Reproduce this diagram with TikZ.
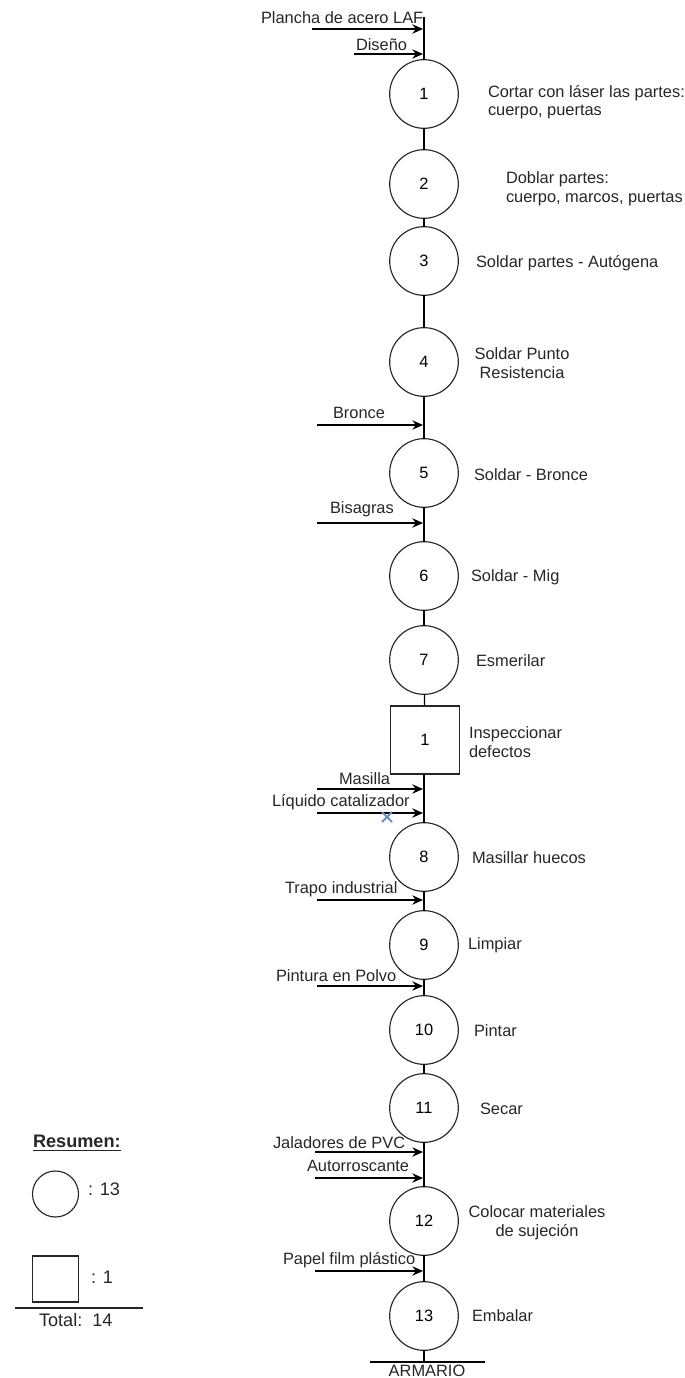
\documentclass[tikz,border=0pt]{standalone}
\usepackage{fontspec}
\setmainfont{Liberation Sans}
\usetikzlibrary{arrows.meta}
\begin{document}
\begin{tikzpicture}[x=0.75pt,y=-0.75pt,
  every node/.style={inner sep=0pt,outer sep=0pt},
  txt/.style={font=\fontsize{12.3}{14}\selectfont,text=black!85},
  sumtxt/.style={font=\fontsize{13.6}{16}\selectfont,text=black!85},
  opcircle/.style={draw=black!85,line width=0.85pt,circle,minimum size=51.5pt,font=\fontsize{12.3}{14}\selectfont},
  inspbox/.style={draw=black!85,line width=0.85pt,rectangle,minimum width=51.5pt,minimum height=51pt,font=\fontsize{12.3}{14}\selectfont},
  flow/.style={line width=0.9pt,black},
  feed/.style={line width=0.9pt,black,-{Stealth[length=8pt,width=7pt]}},
  desc/.style={txt,anchor=west,align=left},
  inlabel/.style={txt,anchor=west}
]
\useasboundingbox (0,0) rectangle (685,1378);

% main sequence of operations
\node[opcircle] (o1) at (424,94) {1};
\node[opcircle] (o2) at (424,184) {2};
\node[opcircle] (o3) at (424,261) {3};
\node[opcircle] (o4) at (424,362) {4};
\node[opcircle] (o5) at (424,473) {5};
\node[opcircle] (o6) at (424,576) {6};
\node[opcircle] (o7) at (424,660) {7};
\node[inspbox]  (i1) at (425,740) {1};
\node[opcircle] (o8) at (424,857) {8};
\node[opcircle] (o9) at (424,945) {9};
\node[opcircle] (o10) at (424,1030) {10};
\node[opcircle] (o11) at (424,1108) {11};
\node[opcircle] (o12) at (424,1221) {12};
\node[opcircle] (o13) at (424,1316) {13};

% top start and final product
\coordinate (top) at (424,17);
\coordinate (endp) at (424,1362);
\coordinate (endl) at (370,1362);
\coordinate (endr) at (485,1362);

\draw[flow] (top) -- (o1.north);
\draw[flow] (o1) -- (o2);
\draw[flow] (o2) -- (o3);
\draw[flow] (o3) -- (o4);
\draw[flow] (o4) -- (o5);
\draw[flow] (o5) -- (o6);
\draw[flow] (o6) -- (o7);
\draw[flow] (o7) -- (i1);
\draw[flow] (i1.south -| o8) -- (o8);
\draw[flow] (o8) -- (o9);
\draw[flow] (o9) -- (o10);
\draw[flow] (o10) -- (o11);
\draw[flow] (o11) -- (o12);
\draw[flow] (o12) -- (o13);
\draw[flow] (o13) -- (endp);
\draw[flow] (endl) -- (endr);
\node[txt,anchor=center] (prod) at (427,1371) {ARMARIO};

% incoming materials
\coordinate (s1) at (312,29);   \coordinate (e1) at (423,29);
\coordinate (s2) at (354,54);   \coordinate (e2) at (423,54);
\coordinate (s3) at (317,425);  \coordinate (e3) at (423,425);
\coordinate (s4) at (317,523);  \coordinate (e4) at (423,523);
\coordinate (s5) at (317,789);  \coordinate (e5) at (423,789);
\coordinate (s6) at (317,813);  \coordinate (e6) at (423,813);
\coordinate (s7) at (317,900);  \coordinate (e7) at (423,900);
\coordinate (s8) at (317,986);  \coordinate (e8) at (423,986);
\coordinate (s9) at (315,1152); \coordinate (e9) at (423,1152);
\coordinate (s10) at (315,1178); \coordinate (e10) at (423,1178);
\coordinate (s11) at (315,1271); \coordinate (e11) at (423,1271);

\foreach \k in {1,...,11} { \draw[feed] (s\k) -- (e\k); }

\node[inlabel] (m1) at (261,18) {Plancha de acero LAF};
\node[inlabel] (m2) at (356,45) {Diseño};
\node[inlabel] (m3) at (333,413) {Bronce};
\node[inlabel] (m4) at (330,509) {Bisagras};
\node[inlabel] (m5) at (339,779) {Masilla};
\node[inlabel] (m6) at (272,802) {Líquido catalizador};
\node[inlabel] (m7) at (285,889) {Trapo industrial};
\node[inlabel] (m8) at (276,976) {Pintura en Polvo};
\node[inlabel] (m9) at (273,1143) {Jaladores de PVC};
\node[inlabel] (m10) at (307,1166) {Autorroscante};
\node[inlabel] (m11) at (283,1260) {Papel film plástico};

% small blue cross mark
\draw[line width=1.4pt,color={rgb,255:red,108;green,142;blue,191}]
  (382,812) -- (392,822) (382,822) -- (392,812);

% operation descriptions
\node[desc] (d1) at (488,102) {Cortar con láser las partes:\\cuerpo, puertas};
\node[desc] (d2) at (506,189) {Doblar partes:\\cuerpo, marcos, puertas};
\node[desc] (d3) at (476,263) {Soldar partes - Autógena};
\node[txt,align=center] (d4) at (522,363) {Soldar Punto\\Resistencia};
\node[desc] (d5) at (474,475) {Soldar - Bronce};
\node[desc] (d6) at (471,577) {Soldar - Mig};
\node[desc] (d7) at (476,661) {Esmerilar};
\node[desc] (di) at (469,742) {Inspeccionar\\defectos};
\node[desc] (d8) at (472,858) {Masillar huecos};
\node[desc] (d9) at (468,945) {Limpiar};
\node[desc] (d10) at (474,1031) {Pintar};
\node[desc] (d11) at (480,1109) {Secar};
\node[txt,align=center] (d12) at (537,1223) {Colocar materiales\\de sujeción};
\node[desc] (d13) at (472,1316) {Embalar};

% summary
\node[sumtxt,anchor=west] (rs) at (33,1143) {\textbf{\underline{Resumen:}}};
\node[draw=black!85,line width=0.85pt,circle,minimum size=34.5pt] (sc) at (55.5,1194) {};
\node[sumtxt,anchor=west] (sct) at (88,1189) {: 13};
\node[draw=black!85,line width=0.85pt,rectangle,minimum width=35pt,minimum height=34.5pt] (sq) at (55.5,1279) {};
\node[sumtxt,anchor=west] (sqt) at (91,1277) {: 1};
\coordinate (tl) at (15,1308);
\coordinate (tr) at (143,1308);
\draw[line width=0.8pt,black!85] (tl) -- (tr);
\node[sumtxt,anchor=west] (tot) at (39,1320) {Total:\ \ 14};
\end{tikzpicture}
\end{document}
